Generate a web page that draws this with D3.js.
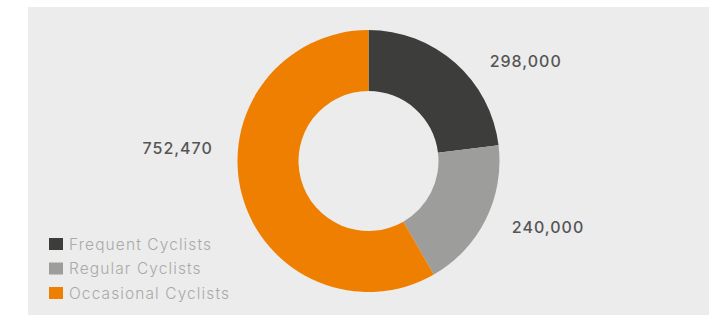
<!DOCTYPE html>
<html lang="en">
<head>
    <meta charset="UTF-8">
    <title>Cyclists Donut</title>
    <script src="https://cdn.jsdelivr.net/npm/d3@7"></script>
    <style>
        body{
            margin: 0;
            background-color: #ffffff;
        }
        .value-label{
            font-family: Inter, sans-serif;
            font-size: 16px;
            font-weight: 500;
            fill: #555555;
            letter-spacing: 1px;
        }
        .legend-label{
            font-family: Inter, sans-serif;
            font-size: 15.5px;
            font-weight: 300;
            fill: #a9a9a9;
            letter-spacing: 1.1px;
        }
    </style>
</head>
<body>
<script>
    // Data
    const categories = ["Frequent Cyclists", "Regular Cyclists", "Occasional Cyclists"];
    const values = [298000, 240000, 752470];
    const colors = ["#3d3d3b", "#9d9d9b", "#ef7f00"];

    // Canvas
    const width = 721;
    const height = 324;
    const cx = 368.5, cy = 161;
    const outerR = 131, innerR = 70;
    const labelR = 157;
    // hand nudges for the value labels, one per slice
    const labelNudge = [[17, 18], [3, -4], [-4, -53]];

    const svg = d3.select("body")
       .append("svg")
       .attr("width", width)
       .attr("height", height);

    // grey panel
    svg.append("rect")
       .attr("x", 28)
       .attr("y", 7)
       .attr("width", 681)
       .attr("height", 308)
       .attr("fill", "#ececec");

    const data = categories.map((c, i) => ({ name: c, value: values[i] }));

    const pie = d3.pie()
       .value(d => d.value)
       .sort(null);

    const arc = d3.arc()
       .innerRadius(innerR)
       .outerRadius(outerR);

    const color = d3.scaleOrdinal()
       .domain(categories)
       .range(colors);

    const g = svg.append("g")
       .attr("transform", `translate(${cx},${cy})`);

    const arcs = pie(data);

    g.selectAll(".slice")
       .data(arcs)
       .enter()
       .append("path")
       .attr("class", "slice")
       .attr("d", arc)
       .attr("fill", d => color(d.data.name));

    // value labels
    const fmt = d3.format(",");
    const mid = d => (d.startAngle + d.endAngle) / 2;
    g.selectAll(".value-label")
       .data(arcs)
       .enter()
       .append("text")
       .attr("class", "value-label")
       .attr("x", (d, i) => Math.sin(mid(d)) * labelR + labelNudge[i][0])
       .attr("y", (d, i) => -Math.cos(mid(d)) * labelR + labelNudge[i][1])
       .attr("dy", "0.36em")
       .attr("text-anchor", d => mid(d) > Math.PI ? "end" : "start")
       .text(d => fmt(d.data.value));

    // legend
    const legend = svg.append("g")
       .attr("transform", "translate(49,244)");

    const row = d3.scaleBand()
       .domain(categories)
       .range([0, 73.5]);

    const item = legend.selectAll(".legend-item")
       .data(categories)
       .enter()
       .append("g")
       .attr("class", "legend-item")
       .attr("transform", d => `translate(0,${row(d)})`);

    item.append("rect")
       .attr("x", 0)
       .attr("y", -6)
       .attr("width", 14)
       .attr("height", 12)
       .attr("fill", d => color(d));

    item.append("text")
       .attr("class", "legend-label")
       .attr("x", 20)
       .attr("dy", "0.36em")
       .text(d => d);
</script>
</body>
</html>
